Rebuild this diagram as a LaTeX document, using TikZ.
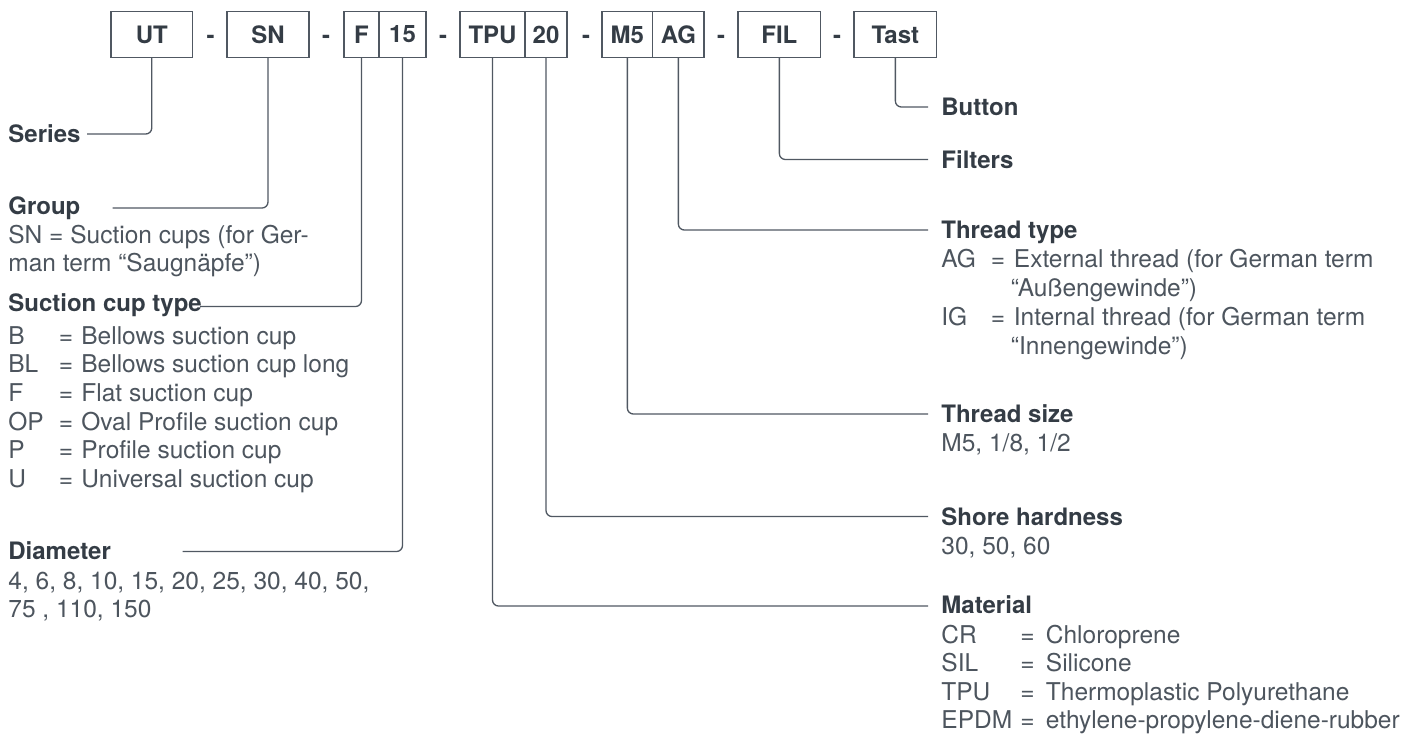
\documentclass[tikz,border=0pt]{standalone}
\usepackage{fontspec}
\setmainfont{TeX Gyre Heros}
\definecolor{titlec}{HTML}{343C45}
\definecolor{bodyc}{HTML}{4D555E}
\definecolor{linec}{HTML}{505862}
\begin{document}
\begin{tikzpicture}[x=0.5pt,y=-0.5pt,
  codebox/.style={draw=linec, line width=0.6pt, minimum height=23pt, inner sep=0pt,
    font=\bfseries\fontsize{12}{14}\selectfont, text=titlec},
  sepdash/.style={anchor=base, inner sep=0pt, font=\bfseries\fontsize{12}{14}\selectfont, text=titlec},
  conn/.style={draw=linec, line width=0.65pt, rounded corners=3pt},
  ttl/.style={anchor=base west, inner sep=0pt, font=\bfseries\fontsize{12}{14}\selectfont, text=titlec},
  txt/.style={anchor=base west, inner sep=0pt, font=\fontsize{12.25}{14}\selectfont, text=bodyc}
]
\useasboundingbox (0,0) rectangle (1416,736);

% code boxes
\node[codebox, minimum width=40.75pt] (ut)   at (151.75,34.5) {UT};
\node[codebox, minimum width=41pt]    (sn)   at (268,34.5)    {SN};
\node[codebox, minimum width=17.5pt]  (f)    at (361.5,34.5)  {F};
\node[codebox, minimum width=23.5pt]  (d15)  at (402.5,34.5)  {15};
\node[codebox, minimum width=32.5pt]  (tpu)  at (492.5,34.5)  {TPU};
\node[codebox, minimum width=21pt]    (d20)  at (546,34.5)    {20};
\node[codebox, minimum width=25.35pt] (m5)   at (627.35,34.5) {M5};
\node[codebox, minimum width=25.65pt] (ag)   at (678.35,34.5) {AG};
\node[codebox, minimum width=41.35pt] (fil)  at (779.35,34.5) {FIL};
\node[codebox, minimum width=41.35pt] (tast) at (895.35,34.5) {Tast};

% separators
\node[sepdash] (s1) at (210.5,43.1) {-};
\node[sepdash] (s2) at (326,43.1) {-};
\node[sepdash] (s3) at (443,43.1) {-};
\node[sepdash] (s4) at (586,43.1) {-};
\node[sepdash] (s5) at (721,43.1) {-};
\node[sepdash] (s6) at (837,43.1) {-};

% connector end points
\coordinate (eSeries)  at (87,134);
\coordinate (eGroup)   at (112.7,208);
\coordinate (eType)    at (200,306.5);
\coordinate (eDiam)    at (182.7,551.5);
\coordinate (eButton)  at (928,107);
\coordinate (eFilters) at (928,159.5);
\coordinate (eThrType) at (928,230);
\coordinate (eThrSize) at (928,414);
\coordinate (eShore)   at (928,516.5);
\coordinate (eMat)     at (928,606);

\draw[conn] (ut.south)   |- (eSeries);
\draw[conn] (sn.south)   |- (eGroup);
\draw[conn] (f.south)    |- (eType);
\draw[conn] (d15.south)  |- (eDiam);
\draw[conn] (tast.south) |- (eButton);
\draw[conn] (fil.south)  |- (eFilters);
\draw[conn] (ag.south)   |- (eThrType);
\draw[conn] (m5.south)   |- (eThrSize);
\draw[conn] (d20.south)  |- (eShore);
\draw[conn] (tpu.south)  |- (eMat);

% left texts
\node[ttl] (series) at (8,142.6) {Series};
\node[ttl] (group)  at (8,214.6) {Group};
\node[txt] (grp1)   at (8,243.6) {SN = Suction cups (for Ger-};
\node[txt] (grp2)   at (8,271.6) {man term “Saugnäpfe”)};
\node[ttl] (sctype) at (8,311.6) {Suction cup type};
\node[txt] (ab1) at (8,344.1) {B};   \node[txt] (eq1) at (58.5,344.1) {=}; \node[txt] (tx1) at (81,344.1) {Bellows suction cup};
\node[txt] (ab2) at (8,372.8) {BL};  \node[txt] (eq2) at (58.5,372.8) {=}; \node[txt] (tx2) at (81,372.8) {Bellows suction cup long};
\node[txt] (ab3) at (8,401.5) {F};   \node[txt] (eq3) at (58.5,401.5) {=}; \node[txt] (tx3) at (81,401.5) {Flat suction cup};
\node[txt] (ab4) at (8,430.2) {OP};  \node[txt] (eq4) at (58.5,430.2) {=}; \node[txt] (tx4) at (81,430.2) {Oval Profile suction cup};
\node[txt] (ab5) at (8,458.9) {P};   \node[txt] (eq5) at (58.5,458.9) {=}; \node[txt] (tx5) at (81,458.9) {Profile suction cup};
\node[txt] (ab6) at (8,487.6) {U};   \node[txt] (eq6) at (58.5,487.6) {=}; \node[txt] (tx6) at (81,487.6) {Universal suction cup};
\node[ttl] (diam)  at (8,559.6) {Diameter};
\node[txt] (dia1)  at (8,589.3) {4, 6, 8, 10, 15, 20, 25, 30, 40, 50,};
\node[txt] (dia2)  at (8,617)   {75 , 110, 150};

% right texts
\node[ttl] (button)  at (941,115.6) {Button};
\node[ttl] (filters) at (941,168.1) {Filters};
\node[ttl] (thrtype) at (941,238.6) {Thread type};
\node[txt] (tab1) at (941,267.6) {AG}; \node[txt] (teq1) at (990.5,267.6) {=}; \node[txt] (ttx1) at (1013.5,267.6) {External thread (for German term};
\node[txt] (ttx1b) at (1010.5,296.6) {“Außengewinde”)};
\node[txt] (tab2) at (941,325.6) {IG}; \node[txt] (teq2) at (990.5,325.6) {=}; \node[txt] (ttx2) at (1013.5,325.6) {Internal thread (for German term};
\node[txt] (ttx2b) at (1010.5,354.6) {“Innengewinde”)};
\node[ttl] (thrsize) at (941,422.6) {Thread size};
\node[txt] (tsz)     at (941,451.6) {M5, 1/8, 1/2};
\node[ttl] (shore)   at (941,525.1) {Shore hardness};
\node[txt] (shv)     at (941,554.1) {30, 50, 60};
\node[ttl] (mat)     at (941,613.6) {Material};
\node[txt] (mab1) at (941,643.1) {CR};   \node[txt] (meq1) at (1020,643.1) {=}; \node[txt] (mtx1) at (1045.5,643.1) {Chloroprene};
\node[txt] (mab2) at (941,671.6) {SIL};  \node[txt] (meq2) at (1020,671.6) {=}; \node[txt] (mtx2) at (1045.5,671.6) {Silicone};
\node[txt] (mab3) at (941,700.3) {TPU};  \node[txt] (meq3) at (1020,700.3) {=}; \node[txt] (mtx3) at (1045.5,700.3) {Thermoplastic Polyurethane};
\node[txt] (mab4) at (941,728.9) {EPDM}; \node[txt] (meq4) at (1020,728.9) {=}; \node[txt] (mtx4) at (1045.5,728.9) {ethylene-propylene-diene-rubber};
\end{tikzpicture}
\end{document}
